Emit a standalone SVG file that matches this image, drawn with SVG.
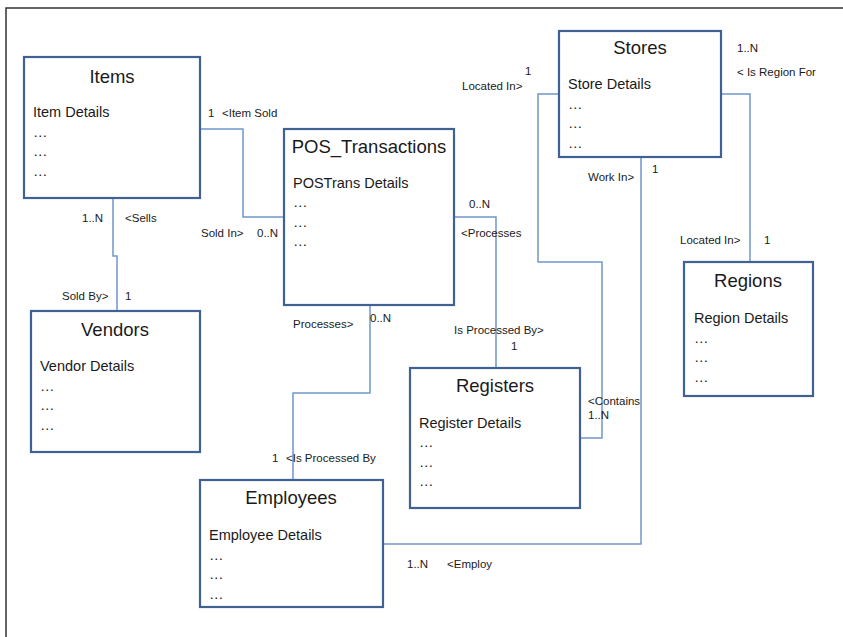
<svg xmlns="http://www.w3.org/2000/svg" width="843" height="637" viewBox="0 0 843 637">
<style>
.box{fill:#fff;stroke:#3f6193;stroke-width:2.2}
.ln{fill:none;stroke:#7098cc;stroke-width:1.5}
text{font-family:"Liberation Sans",Arial,sans-serif;fill:#1a1a1a}
.t{font-size:18.5px;text-anchor:middle}
.d{font-size:14.5px}
.l{font-size:11.5px}
</style>
<rect width="843" height="637" fill="#fff"/>
<path d="M6,637 V8 H843" fill="none" stroke="#333" stroke-width="1.5"/>
<g id="connectors">
<path class="ln" d="M200,129 H243 V217 H284"/>
<path class="ln" d="M113,198 V256 H117 V311"/>
<path class="ln" d="M454,217 H496 V368"/>
<path class="ln" d="M370,305 V393 H293 V480"/>
<path class="ln" d="M559,94 H538 V262 H602 V438 H580"/>
<path class="ln" d="M721,94 H750 V262"/>
<path class="ln" d="M641,157 V544 H383"/>
</g>
<g id="labels" class="l">
<text x="208" y="117">1</text>
<text x="222" y="117">&lt;Item Sold</text>
<text x="201" y="237">Sold In&gt;</text>
<text x="257" y="237">0..N</text>
<text x="82" y="222">1..N</text>
<text x="125" y="222">&lt;Sells</text>
<text x="62" y="300">Sold By&gt;</text>
<text x="125" y="300">1</text>
<text x="469" y="208">0..N</text>
<text x="461" y="237">&lt;Processes</text>
<text x="293" y="328">Processes&gt;</text>
<text x="370" y="322">0..N</text>
<text x="272" y="462">1</text>
<text x="286" y="462">&lt;Is Processed By</text>
<text x="454" y="334">Is Processed By&gt;</text>
<text x="511" y="350">1</text>
<text x="462" y="90">Located In&gt;</text>
<text x="525" y="75">1</text>
<text x="588" y="405">&lt;Contains</text>
<text x="588" y="419">1..N</text>
<text x="737" y="52">1..N</text>
<text x="737" y="76">&lt; Is Region For</text>
<text x="680" y="244">Located In&gt;</text>
<text x="764" y="244">1</text>
<text x="588" y="181">Work In&gt;</text>
<text x="652" y="173">1</text>
<text x="407" y="568">1..N</text>
<text x="447" y="568">&lt;Employ</text>
</g>
<g id="items">
<rect class="box" x="24" y="57" width="176" height="141"/>
<text class="t" x="112" y="83">Items</text>
<text class="d" x="33" y="117">Item Details</text>
<text class="d" x="33" y="137">…</text>
<text class="d" x="33" y="156">…</text>
<text class="d" x="33" y="176">…</text>
</g>
<g id="vendors">
<rect class="box" x="31" y="311" width="169" height="141"/>
<text class="t" x="115" y="336">Vendors</text>
<text class="d" x="40" y="371">Vendor Details</text>
<text class="d" x="40" y="391">…</text>
<text class="d" x="40" y="410">…</text>
<text class="d" x="40" y="430">…</text>
</g>
<g id="pos_transactions">
<rect class="box" x="284" y="129" width="170" height="176"/>
<text class="t" x="369" y="153">POS_Transactions</text>
<text class="d" x="293" y="188">POSTrans Details</text>
<text class="d" x="293" y="207">…</text>
<text class="d" x="293" y="227">…</text>
<text class="d" x="293" y="246">…</text>
</g>
<g id="stores">
<rect class="box" x="559" y="31" width="162" height="126"/>
<text class="t" x="640" y="54">Stores</text>
<text class="d" x="568" y="89">Store Details</text>
<text class="d" x="568" y="109">…</text>
<text class="d" x="568" y="128">…</text>
<text class="d" x="568" y="148">…</text>
</g>
<g id="regions">
<rect class="box" x="684" y="262" width="129" height="134"/>
<text class="t" x="748" y="287">Regions</text>
<text class="d" x="694" y="323">Region Details</text>
<text class="d" x="694" y="343">…</text>
<text class="d" x="694" y="362">…</text>
<text class="d" x="694" y="382">…</text>
</g>
<g id="registers">
<rect class="box" x="410" y="368" width="170" height="140"/>
<text class="t" x="495" y="392">Registers</text>
<text class="d" x="419" y="428">Register Details</text>
<text class="d" x="419" y="447">…</text>
<text class="d" x="419" y="467">…</text>
<text class="d" x="419" y="486">…</text>
</g>
<g id="employees">
<rect class="box" x="200" y="480" width="183" height="127"/>
<text class="t" x="291" y="504">Employees</text>
<text class="d" x="209" y="540">Employee Details</text>
<text class="d" x="209" y="560">…</text>
<text class="d" x="209" y="579">…</text>
<text class="d" x="209" y="599">…</text>
</g>
</svg>
